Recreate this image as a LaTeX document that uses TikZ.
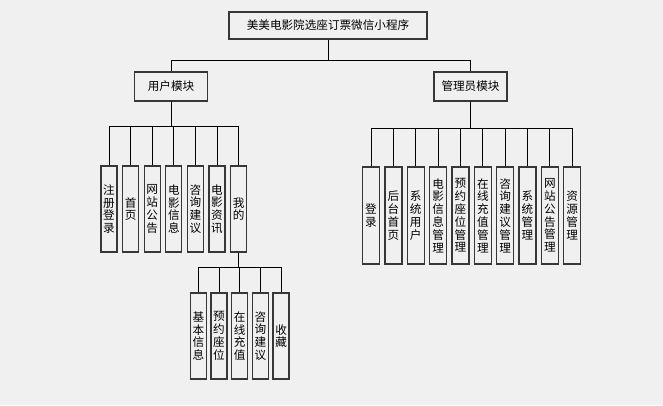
\documentclass[tikz,border=0pt]{standalone}
\usepackage{fontspec}
\newfontfamily\cjk{Noto Sans CJK SC}
\usepackage{xcolor}
\usepackage{tikz}
\usetikzlibrary{positioning,calc}

\definecolor{bgcol}{RGB}{240,240,240}
\definecolor{framecol}{RGB}{55,55,55}

\begin{document}
\begin{tikzpicture}[x=1pt, y=-1pt]
  \tikzset{
    box/.style={draw=framecol,line width=1.3pt,fill=bgcol,inner sep=0pt,
                font=\cjk\fontsize{11.6}{12.8}\selectfont,align=center},
    topbox/.style={box,minimum width=198pt,minimum height=27pt},
    modbox/.style={box,minimum width=73pt,minimum height=29pt},
    ubox/.style={box,minimum width=16pt,minimum height=86pt},
    abox/.style={box,minimum width=17pt,minimum height=97pt},
    link/.style={draw=black,line width=0.9pt}
  }
  \fill[bgcol] (0,0) rectangle (663,405);
  \useasboundingbox (0,0) rectangle (663,405);

  % Top
  \node[topbox] (root) at (328,25.5) {美美电影院选座订票微信小程序};
  \node[modbox] (user)  at (171,86.5)   {用户模块};
  \node[modbox] (admin) at (470.5,86.5) {管理员模块};
  \coordinate (rbar) at (0,60);
  \draw[link] (root.south) |- (rbar -| user.north) -- (user.north);
  \draw[link] (root.south) |- (rbar -| admin.north) -- (admin.north);

  % User module
  \node[ubox] (u1) at (109,209)   {注\\册\\登\\录};
  \node[ubox] (u2) at (130.6,209) {首\\页};
  \node[ubox] (u3) at (152.2,209) {网\\站\\公\\告};
  \node[ubox] (u4) at (173.8,209) {电\\影\\信\\息};
  \node[ubox] (u5) at (195.4,209) {咨\\询\\建\\议};
  \node[ubox] (u6) at (217,209)   {电\\影\\资\\讯};
  \node[ubox] (u7) at (238.6,209) {我\\的};
  \coordinate (ubar) at (0,126);
  \foreach \c in {u1,u2,u3,u4,u5,u6,u7}
    \draw[link] (user.south) |- (ubar -| \c.north) -- (\c.north);

  % Mine
  \node[ubox] (m1) at (198.3,336) {基\\本\\信\\息};
  \node[ubox] (m2) at (219,336)   {预\\约\\座\\位};
  \node[ubox] (m3) at (239.7,336) {在\\线\\充\\值};
  \node[ubox] (m4) at (260.4,336) {咨\\询\\建\\议};
  \node[ubox] (m5) at (281.1,336) {收\\藏};
  \coordinate (mbar) at (0,267);
  \foreach \c in {m1,m2,m3,m4,m5}
    \draw[link] (u7.south) |- (mbar -| \c.north) -- (\c.north);

  % Admin module
  \node[abox] (a1)  at (371,215.5)   {登\\录};
  \node[abox] (a2)  at (393.4,215.5) {后\\台\\首\\页};
  \node[abox] (a3)  at (415.7,215.5) {系\\统\\用\\户};
  \node[abox] (a4)  at (438.1,215.5) {电\\影\\信\\息\\管\\理};
  \node[abox] (a5)  at (460.4,215.5) {预\\约\\座\\位\\管\\理};
  \node[abox] (a6)  at (482.8,215.5) {在\\线\\充\\值\\管\\理};
  \node[abox] (a7)  at (505.1,215.5) {咨\\询\\建\\议\\管\\理};
  \node[abox] (a8)  at (527.5,215.5) {系\\统\\管\\理};
  \node[abox] (a9)  at (549.8,215.5) {网\\站\\公\\告\\管\\理};
  \node[abox] (a10) at (572.2,215.5) {资\\源\\管\\理};
  \coordinate (abar) at (0,128);
  \foreach \c in {a1,a2,a3,a4,a5,a6,a7,a8,a9,a10}
    \draw[link] (admin.south) |- (abar -| \c.north) -- (\c.north);
\end{tikzpicture}
\end{document}
